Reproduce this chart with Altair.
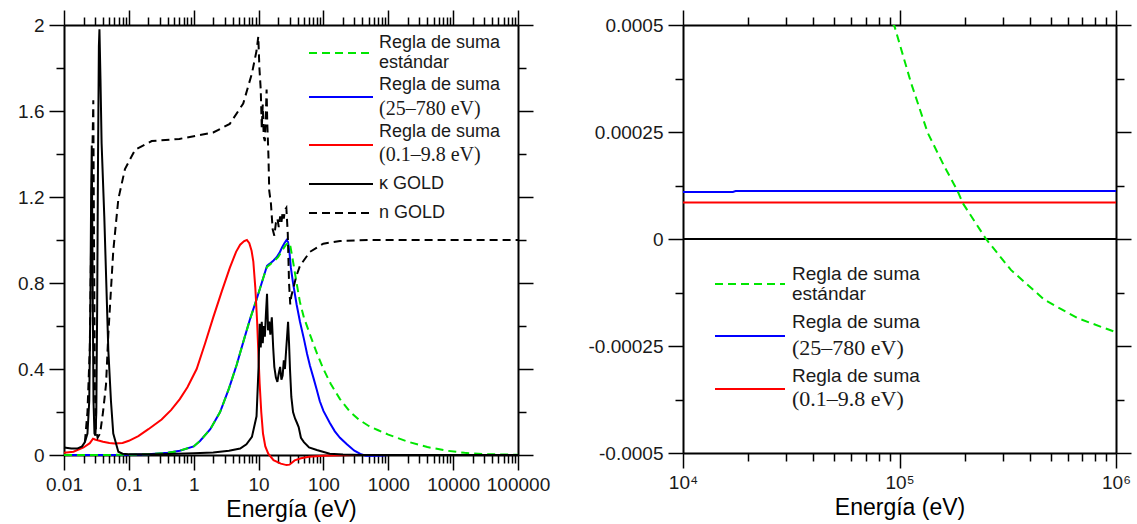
import json
import altair as alt
import pandas as pd

# ======================= LEFT PANEL DATA =======================
# kappa GOLD (solid black)
k_E = [0.010, 0.013, 0.016, 0.019, 0.021, 0.023, 0.0245, 0.0255, 0.0262, 0.0268, 0.0275,
       0.0285, 0.0295, 0.0305, 0.0315, 0.0325, 0.0335, 0.0345, 0.0352, 0.0365, 0.038, 0.0418,
       0.0482, 0.0530, 0.0575, 0.0688, 0.080, 0.10, 0.30, 1.0, 2.0, 3.5, 5.2, 6.5, 7.9, 9.3,
       10.0, 10.4, 10.8, 11.2, 11.6, 12.0, 12.5, 13.0, 13.5, 14.0, 14.6, 15.2, 16.0, 16.8,
       17.5, 18.5, 19.5, 20.5, 21.5, 22.5, 23.5, 24.5, 25.5, 26.5, 27.5, 28.5, 29.5, 30.5,
       32.0, 34.0, 36.5, 39.0, 41.5, 45.0, 50.0, 60.0, 79.0, 125.0, 200.0, 400.0, 100000.0]
k_v = [0.035, 0.030, 0.030, 0.040, 0.060, 0.100, 0.250, 0.700, 1.200, 1.440, 0.900,
       0.250, 0.100, 0.090, 0.200, 0.700, 1.400, 1.900, 1.980, 1.750, 1.450, 1.110,
       0.490, 0.250, 0.100, 0.015, 0.006, 0.004, 0.004, 0.008, 0.012, 0.020, 0.030, 0.050, 0.084, 0.180,
       0.410, 0.610, 0.500, 0.620, 0.520, 0.600, 0.550, 0.660, 0.750, 0.580, 0.620, 0.560, 0.640, 0.500,
       0.410, 0.360, 0.340, 0.380, 0.410, 0.350, 0.370, 0.440, 0.400, 0.480, 0.550, 0.620, 0.520, 0.400,
       0.270, 0.200, 0.170, 0.150, 0.130, 0.080, 0.060, 0.035, 0.023, 0.006, 0.002, 0.000, 0.000]

# n GOLD (dashed black)
n_E = [0.021, 0.023, 0.025, 0.027, 0.0283, 0.029, 0.030, 0.031, 0.033, 0.036, 0.040,
       0.0445, 0.0482, 0.0575, 0.0688, 0.0871, 0.125, 0.225, 0.60, 2.0, 3.6, 5.8, 7.9, 9.3,
       9.9, 10.3, 10.8, 11.2, 11.6, 12.0, 12.5, 13.0, 13.3, 13.6, 14.2, 14.6, 15.5, 16.5,
       17.5, 18.5, 19.5, 20.5, 21.5, 22.5, 23.5, 24.5, 25.5, 26.8, 28.2, 29.5, 30.8, 32.0,
       34.0, 38.0, 43.5, 62.0, 99.5, 180.0, 500.0, 100000.0]
n_v = [0.060, 0.200, 0.500, 1.300, 1.650, 1.000, 0.300, 0.120, 0.080, 0.100, 0.200,
       0.330, 0.560, 0.950, 1.190, 1.330, 1.420, 1.460, 1.470, 1.500, 1.540, 1.635, 1.775, 1.880,
       1.946, 1.800, 1.700, 1.520, 1.630, 1.480, 1.460, 1.600, 1.700, 1.550, 1.390, 1.230, 1.170, 1.050,
       1.020, 1.080, 1.100, 1.060, 1.110, 1.080, 1.130, 1.100, 1.140, 1.150, 1.030, 0.800, 0.700, 0.740,
       0.770, 0.830, 0.880, 0.945, 0.983, 0.995, 1.000, 1.000]

# Regla de suma (25-780 eV) (blue)
b_E = [0.01, 0.05, 0.1, 0.2, 0.4, 0.61, 1.0, 1.25, 1.8, 2.55, 3.5, 4.6, 6.0, 7.35, 9.0,
       10.4, 12.0, 13.5, 14.9, 17.0, 19.0, 21.0, 23.0, 25.0, 27.0, 28.5, 30.0, 31.5, 34.0,
       38.6, 43.5, 50.0, 56.0, 62.0, 70.0, 78.7, 88.0, 100.0, 125.0, 150.0, 180.0, 230.0,
       300.0, 370.0, 450.0, 600.0, 800.0, 1000.0, 100000.0]
b_v = [0.000, 0.0005, 0.001, 0.004, 0.010, 0.020, 0.040, 0.065, 0.120, 0.200, 0.310, 0.420, 0.540, 0.630, 0.710,
       0.770, 0.830, 0.880, 0.890, 0.905, 0.920, 0.940, 0.965, 0.985, 1.000, 0.990, 0.940, 0.870, 0.800,
       0.700, 0.620, 0.540, 0.470, 0.415, 0.360, 0.305, 0.250, 0.205, 0.150, 0.110, 0.080, 0.050,
       0.020, 0.005, -0.003, -0.004, -0.002, 0.000, 0.000]

# Regla de suma estandar (green dashed)
g_E = [0.01, 0.05, 0.1, 0.2, 0.4, 0.61, 1.0, 1.25, 1.8, 2.55, 3.5, 4.6, 6.0, 7.35, 9.0,
       10.4, 12.0, 13.5, 14.9, 17.0, 20.0, 23.0, 26.0, 29.0, 31.0, 34.0, 38.6, 43.5, 50.0,
       62.0, 80.0, 100.0, 130.0, 180.0, 250.0, 350.0, 500.0, 700.0, 1000.0, 2000.0, 4000.0,
       8000.0, 15000.0, 30000.0, 100000.0]
g_v = [0.000, 0.0005, 0.001, 0.004, 0.010, 0.020, 0.040, 0.065, 0.120, 0.200, 0.310, 0.420, 0.540, 0.630, 0.710,
       0.770, 0.830, 0.875, 0.885, 0.900, 0.920, 0.950, 0.975, 0.990, 0.970, 0.900, 0.800, 0.710, 0.640,
       0.560, 0.470, 0.400, 0.330, 0.260, 0.205, 0.165, 0.135, 0.115, 0.095, 0.062, 0.037,
       0.020, 0.010, 0.004, 0.001]

# Regla de suma (0.1-9.8 eV) (red)
r_E = [0.010, 0.014, 0.020, 0.025, 0.028, 0.030, 0.040, 0.050, 0.060, 0.080, 0.10, 0.14,
       0.20, 0.32, 0.45, 0.61, 0.80, 1.11, 1.5, 2.0, 2.7, 3.6, 4.5, 5.2, 6.0, 6.6, 7.2, 7.8,
       8.3, 8.9, 9.5, 10.0, 10.4, 11.0, 11.7, 12.7, 14.1, 17.0, 22.0, 27.0, 30.0, 36.0, 45.0,
       60.0, 100.0, 300.0, 100000.0]
r_v = [0.010, 0.015, 0.035, 0.055, 0.076, 0.072, 0.062, 0.056, 0.054, 0.056, 0.066, 0.088,
       0.120, 0.165, 0.210, 0.260, 0.315, 0.400, 0.520, 0.640, 0.760, 0.870, 0.945, 0.978, 0.995, 1.000, 0.985, 0.950,
       0.900, 0.780, 0.620, 0.450, 0.330, 0.200, 0.100, 0.040, 0.006, -0.024, -0.040, -0.047, -0.045, -0.025, -0.015,
       -0.008, -0.003, 0.000, 0.000]

# ======================= RIGHT PANEL DATA =======================
rb_E = [10000, 17000, 17500, 1000000]
rb_v = [0.000110, 0.000110, 0.000112, 0.000112]
rr_E = [10000, 1000000]
rr_v = [0.0000855, 0.0000855]
rg_E = [92000, 94700, 113000, 135000, 161000, 186000, 196000, 251000, 327000, 467000, 665000, 1000000]
rg_v = [0.000505, 0.000498, 0.000365, 0.000248, 0.000170, 0.000111, 0.0000838, 0.0, -0.0000722,
        -0.000142, -0.000185, -0.000218]

# ======================= TICKS / LABELS =======================
xL_major = [0.01, 0.1, 1, 10, 100, 1000, 10000, 100000]
xL_labels = ['0.01', '0.1', '1', '10', '100', '1000', '10000', '100000']
yL_major = [0, 0.4, 0.8, 1.2, 1.6, 2]
yL_labels = ['0', '0.4', '0.8', '1.2', '1.6', '2']
yL_minor = [0.2, 0.6, 1.0, 1.4, 1.8]

xR_major = [10000, 100000, 1000000]
xR_labels = ['10⁴', '10⁵', '10⁶']
yR_major = [-0.0005, -0.00025, 0, 0.00025, 0.0005]
yR_labels = ['-0.0005', '-0.00025', '0', '0.00025', '0.0005']
yR_minor = [-0.000375, -0.000125, 0.000125, 0.000375]

legend_names = ['Regla de suma', 'estándar', 'Regla de suma', '(25–780 eV)',
                'Regla de suma', '(0.1–9.8 eV)', 'κ GOLD', 'n GOLD']

GREEN, BLUE, RED, BLACK = '#00e600', '#0000ff', '#ff0000', '#000000'
DASH = [8, 5]
SANS = 'Liberation Sans'
SERIF = 'Liberation Serif'
TITLE = 'Energía (eV)'


def log_minors(lo_exp, hi_exp):
    return [k * 10.0 ** e for e in range(lo_exp, hi_exp) for k in range(2, 10)]


def js(arr):
    return json.dumps(arr, ensure_ascii=False)


def make_axis(orient, values, tick_size, labels=None, title=None, domain=True, pad=5):
    kw = dict(orient=orient, values=values, grid=False, domain=domain,
              domainColor='black', domainWidth=2, tickColor='black', tickWidth=1.5,
              tickSize=tick_size, labelFlush=False, labelOverlap=False,
              labelFont=SANS, labelFontSize=19, labelColor='#1a1a1a', labelPadding=pad,
              titleFont=SANS, titleFontSize=23, titleFontWeight='normal', titleColor='black',
              titlePadding=4, title=title if title else '')
    if labels:
        kw['labels'] = True
        kw['labelExpr'] = f"{js(labels)}[indexof({js(values)}, datum.value)]"
    else:
        kw['labels'] = False
    return alt.Axis(**kw)


def series(E, v, xs, ys, color, dash=None, clip=False, width=2):
    kw = dict(color=color, strokeWidth=width, clip=clip)
    if dash:
        kw['strokeDash'] = dash
    return alt.Chart(pd.DataFrame({'E': E, 'v': v})).mark_line(**kw).encode(
        x=alt.X('E:Q', scale=xs, axis=None),
        y=alt.Y('v:Q', scale=ys, axis=None))


def axes_layer(xs, ys, xdom, ydom, xaxis, yaxis):
    return alt.Chart(pd.DataFrame({'E': xdom, 'v': ydom})).mark_point(opacity=0).encode(
        x=alt.X('E:Q', scale=xs, axis=xaxis),
        y=alt.Y('v:Q', scale=ys, axis=yaxis))


def frame_layers(xs, ys, xdom, ydom, xmaj, xlab, xmin, ymaj, ylab, ymin):
    return [
        axes_layer(xs, ys, xdom, ydom,
                   make_axis('bottom', xmaj, 15, xlab, TITLE, pad=5),
                   make_axis('left', ymaj, 15, ylab, pad=5)),
        axes_layer(xs, ys, xdom, ydom,
                   make_axis('bottom', xmin, 8, domain=False),
                   make_axis('left', ymin, 8, domain=False)),
        axes_layer(xs, ys, xdom, ydom,
                   make_axis('top', xmaj, 15),
                   make_axis('right', ymaj, 15)),
        axes_layer(xs, ys, xdom, ydom,
                   make_axis('top', xmin, 8, domain=False),
                   make_axis('right', ymin, 8, domain=False)),
    ]


def legend_layers(rows, lines, x_text):
    out = []
    for (txt, font, size, y) in rows:
        out.append(alt.Chart(pd.DataFrame({'t': [txt]})).mark_text(
            align='left', baseline='middle', font=font, fontSize=size, color='#1a1a1a').encode(
            x=alt.value(x_text), y=alt.value(y), text='t:N'))
    for (x0, x1, y, color, dash) in lines:
        kw = dict(color=color, strokeWidth=2)
        if dash:
            kw['strokeDash'] = dash
        out.append(alt.Chart(pd.DataFrame({'a': [0]})).mark_rule(**kw).encode(
            x=alt.value(x0), x2=alt.value(x1), y=alt.value(y)))
    return out


# ======================= LEFT PANEL =======================
xsL = alt.Scale(type='log', domain=[0.01, 100000], nice=False)
ysL = alt.Scale(domain=[0, 2], nice=False, zero=False)

left_layers = frame_layers(xsL, ysL, [0.01, 100000], [0, 2],
                           xL_major, xL_labels, log_minors(-2, 5),
                           yL_major, yL_labels, yL_minor)
left_layers += [
    series(b_E, b_v, xsL, ysL, BLUE),
    series(g_E, g_v, xsL, ysL, GREEN, DASH),
    series(r_E, r_v, xsL, ysL, RED),
    series(k_E, k_v, xsL, ysL, BLACK),
    series(n_E, n_v, xsL, ysL, BLACK, DASH),
]
L_rows = [(legend_names[0], SANS, 18, 18), (legend_names[1], SANS, 18, 38),
          (legend_names[2], SANS, 18, 60), (legend_names[3], SERIF, 20, 84),
          (legend_names[4], SANS, 18, 107), (legend_names[5], SERIF, 20, 130),
          (legend_names[6], SANS, 18, 159), (legend_names[7], SANS, 18, 188)]
L_lines = [(245, 309, 28, GREEN, DASH), (245, 309, 72, BLUE, None), (245, 309, 120, RED, None),
           (245, 309, 159, BLACK, None), (245, 309, 188, BLACK, DASH)]
left_layers += legend_layers(L_rows, L_lines, 315)

left = alt.layer(*left_layers).resolve_axis(x='independent', y='independent').properties(
    width=454, height=430)

# ======================= RIGHT PANEL =======================
xsR = alt.Scale(type='log', domain=[10000, 1000000], nice=False)
ysR = alt.Scale(domain=[-0.0005, 0.0005], nice=False, zero=False)

right_layers = frame_layers(xsR, ysR, [10000, 1000000], [-0.0005, 0.0005],
                            xR_major, xR_labels, log_minors(4, 6),
                            yR_major, yR_labels, yR_minor)
right_layers += [
    alt.Chart(pd.DataFrame({'v': [0.0]})).mark_rule(color='black', strokeWidth=2).encode(
        y=alt.Y('v:Q', scale=ysR, axis=None)),
    series(rb_E, rb_v, xsR, ysR, BLUE, clip=True),
    series(rr_E, rr_v, xsR, ysR, RED, clip=True),
    series(rg_E, rg_v, xsR, ysR, GREEN, DASH, clip=True),
]
R_rows = [(legend_names[0], SANS, 19, 249), (legend_names[1], SANS, 19, 269),
          (legend_names[2], SANS, 19, 297), (legend_names[3], SERIF, 22, 323),
          (legend_names[4], SANS, 19, 351), (legend_names[5], SERIF, 22, 374)]
R_lines = [(32, 102, 259, GREEN, DASH), (32, 102, 311, BLUE, None), (32, 102, 364, RED, None)]
right_layers += legend_layers(R_rows, R_lines, 109)

right = alt.layer(*right_layers).resolve_axis(x='independent', y='independent').properties(
    width=433, height=428)

chart = alt.hconcat(left, right, spacing=36).properties(
    padding={'left': 17, 'top': 8, 'right': 0, 'bottom': 0}
).configure_view(stroke=None).configure(background='white')

chart.save("out.html", embed_options={"renderer": "svg", "actions": False})
